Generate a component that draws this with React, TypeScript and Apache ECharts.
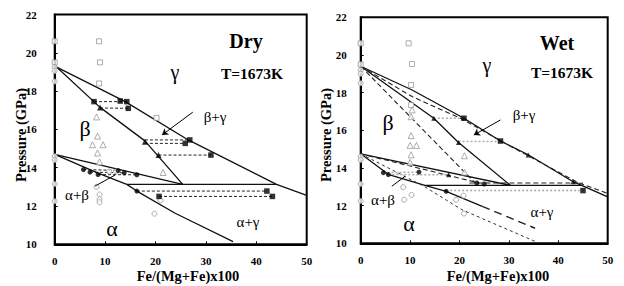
import React, { useEffect, useRef } from "react";
import * as echarts from "echarts";

// ---------- DRY panel data ----------
const dryOpenSquares = [[0, 20.6], [0, 19.5], [8.8, 20.6], [9, 19.5], [8.8, 18.4], [20.2, 16.6]];
const dryOpenTriangles = [[8.3, 16.65], [8.5, 15.65], [7.5, 15.2], [9.6, 15.2], [8.5, 14.77], [8.9, 14.3], [21.5, 13.75]];
const dryOpenCircles = [[0, 19.25], [0, 19.05], [0, 18.5], [0, 14.6], [0, 14.4], [0, 13.15], [0, 12.25], [8.3, 13.0], [8.9, 12.6], [8.9, 12.35], [8.9, 12.2], [10.8, 13.8], [12.2, 13.8], [19.8, 11.6], [21, 12.3]];
const dryFilledSquares = [[7.8, 17.45], [13, 17.48], [14.3, 17.45], [14.6, 17.1], [25.9, 15.27], [26.8, 15.45], [31, 14.66], [42.1, 12.78], [43.2, 12.5], [20.7, 12.5]];
const dryFilledTriangles = [[9, 17.15], [17.9, 15.35], [20.6, 14.66]];
const dryFilledCircles = [[5.7, 13.9], [7, 13.77], [8.6, 13.64], [12.6, 13.85], [13.8, 13.73], [16.3, 13.63], [16.3, 12.78]];
const dryTieLines = [
  [[7.8, 17.45], [14.3, 17.45]],
  [[9, 17.12], [14.6, 17.1]],
  [[17.9, 15.45], [26.8, 15.45]],
  [[17.9, 15.27], [25.9, 15.27]],
  [[20.6, 14.66], [31, 14.66]],
  [[5.7, 13.9], [12.6, 13.86]],
  [[7, 13.77], [13.8, 13.73]],
  [[8.6, 13.64], [16.3, 13.63]],
  [[16.3, 12.78], [42.1, 12.78]],
  [[20.7, 12.5], [43.2, 12.5]],
];
const dryBoundaries = [
  [[0, 19.3], [14, 17.45], [26.5, 15.45], [44, 13.13], [50, 12.55]],
  [[0, 19.35], [9, 17.15], [17.9, 15.4], [25.4, 13.13]],
  [[0, 14.7], [25.4, 13.13]],
  [[0, 14.7], [8.6, 13.72], [14.3, 13.13]],
  [[14.3, 13.13], [44, 13.13]],
  [[14.3, 13.13], [16.3, 12.78], [23.9, 11.62], [35.4, 10.14]],
];

// ---------- WET panel data ----------
const wetOpenSquares = [[0, 20.62], [0, 19.5], [9.7, 20.62], [10.4, 19.52], [10.2, 18.41], [10.2, 17.34]];
const wetOpenTriangles = [[10.4, 17.08], [10.2, 16.72], [10.2, 15.72], [10, 15.2], [11.3, 15.2], [10.2, 14.7], [10, 14.3], [21, 14.65], [21, 13.78]];
const wetOpenCircles = [[0, 19.2], [0, 19.0], [0, 18.5], [0, 14.6], [0, 14.42], [0, 13.15], [0, 12.25], [8.6, 12.98], [10.3, 12.57], [8.8, 12.31], [19.3, 12.31], [20.8, 12.53], [20.9, 11.58]];
const wetFilledSquares = [[20.9, 16.64], [28.3, 15.43], [45, 12.8]];
const wetFilledTriangles = [[14.8, 16.64], [19.8, 15.35], [17.8, 13.64], [33.9, 14.69], [43, 13.27]];
const wetFilledCircles = [[4.6, 13.75], [5.6, 13.65], [11.8, 13.78], [23.5, 13.2], [25, 13.15], [17.3, 12.76]];
const wetTieLines = [
  [[14.8, 16.64], [20.9, 16.64]],
  [[19.8, 15.4], [28.3, 15.4]],
  [[4.6, 13.75], [11.8, 13.78]],
  [[5.6, 13.65], [17.8, 13.64]],
  [[17.3, 12.8], [45, 12.8]],
];
const wetSolidBoundaries = [
  [[0, 19.4], [10.4, 18.14], [20.9, 16.64], [28.3, 15.43], [34, 14.69], [43, 13.27], [50, 12.47]],
  [[0, 19.4], [14.8, 16.64], [19.8, 15.35], [30.3, 13.08]],
  [[0, 14.75], [30.3, 13.08]],
  [[13, 13.08], [44.6, 13.08]],
  [[0, 14.75], [5.7, 13.64], [13, 13.08], [17.3, 12.76], [24.6, 11.96]],
];
// dry boundaries redrawn (dashed) on the wet panel
const wetDashedBoundaries = [
  [[0, 19.4], [10.4, 17.79], [20.5, 16.6], [30, 15.2], [44, 13.22], [50, 12.65]],
  [[0, 19.4], [23.2, 13.2]],
  [[0, 14.75], [24, 13.2]],
  [[22, 13.2], [45, 13.2]],
];
// extrapolated wet alpha boundary (long dash)
const wetLongDashed = [
  [[24.6, 11.96], [35.3, 10.8]],
];
const wetShortDashed = [
  [[0, 14.75], [12.8, 13.03], [20.5, 11.78], [35.3, 10.1]],
];

const xTicks = { min: 0, max: 50, interval: 10 };
const yTicks = { min: 10, max: 22, interval: 2 };

const SERIF = "Liberation Serif";

export default function App() {
  const ref = useRef<HTMLDivElement>(null);
  useEffect(() => {
    if (!ref.current) return;
    const chart = echarts.init(ref.current, null, { renderer: "svg" });
    const series: any[] = [];
    const line = (data: number[][], g: number, color: string, type: any, width: number) =>
      series.push({
        type: "line", xAxisIndex: g, yAxisIndex: g, data, symbol: "none", silent: true,
        lineStyle: { color, type, width }, z: 2,
      });
    const scatter = (data: number[][], g: number, symbol: string, size: number, filled: boolean, color: string) =>
      series.push({
        type: "scatter", xAxisIndex: g, yAxisIndex: g, data, symbol, symbolSize: size, silent: true, z: 4,
        itemStyle: filled ? { color } : { color: "#fff", borderColor: color, borderWidth: 1 },
      });

    // Dry (grid 0)
    dryBoundaries.forEach((d) => line(d, 0, "#111", "solid", 1.3));
    dryTieLines.forEach((d) => line(d, 0, "#222", [3, 2], 1));
    scatter(dryOpenSquares, 0, "rect", 5, false, "#999");
    scatter(dryOpenTriangles, 0, "triangle", 6, false, "#999");
    scatter(dryOpenCircles, 0, "circle", 5, false, "#999");
    scatter(dryFilledSquares, 0, "rect", 5.5, true, "#000");
    scatter(dryFilledTriangles, 0, "triangle", 6, true, "#000");
    scatter(dryFilledCircles, 0, "circle", 5, true, "#000");
    // Wet (grid 1)
    wetSolidBoundaries.forEach((d) => line(d, 1, "#111", "solid", 1.3));
    wetDashedBoundaries.forEach((d) => line(d, 1, "#222", [5, 3], 1.1));
    wetLongDashed.forEach((d) => line(d, 1, "#222", [8, 5], 1.4));
    wetShortDashed.forEach((d) => line(d, 1, "#333", [3, 3], 1));
    wetTieLines.forEach((d) => line(d, 1, "#aaa", [2, 2], 1.5));
    scatter(wetOpenSquares, 1, "rect", 5, false, "#999");
    scatter(wetOpenTriangles, 1, "triangle", 6, false, "#999");
    scatter(wetOpenCircles, 1, "circle", 5, false, "#999");
    scatter(wetFilledSquares, 1, "rect", 5.5, true, "#000");
    scatter(wetFilledTriangles, 1, "triangle", 5, true, "#000");
    scatter(wetFilledCircles, 1, "circle", 5, true, "#000");

    // arrows / leaders
    const arrow = (g: number, a: number[], b: number[], head: boolean) =>
      series.push({
        type: "line", xAxisIndex: g, yAxisIndex: g, data: [], silent: true,
        markLine: {
          silent: true, animation: false, symbol: ["none", head ? "arrow" : "none"], symbolSize: 6,
          label: { show: false }, lineStyle: { color: "#000", type: "solid", width: 1 },
          data: [[{ coord: a }, { coord: b }]],
        },
      });
    arrow(0, [27.4, 16.9], [21.3, 15.71], true);
    arrow(0, [8.0, 13.04], [12.0, 13.62], false);
    arrow(1, [28.3, 16.55], [22.9, 15.75], true);
    arrow(1, [6.3, 13.03], [9.0, 13.56], false);

    const axisLabel = (margin: number) => ({ color: "#000", fontFamily: SERIF, fontWeight: "bold", fontSize: 11, margin });
    const mkX = (g: number) => ({
      type: "value", gridIndex: g, ...xTicks,
      axisLine: { lineStyle: { color: "#000", width: 2 } },
      axisTick: { inside: true, length: 3, lineStyle: { color: "#000" } },
      axisLabel: axisLabel(11), splitLine: { show: false },
    });
    const mkY = (g: number, m: number) => ({
      type: "value", gridIndex: g, ...yTicks,
      axisLine: { lineStyle: { color: "#000", width: 2 } },
      axisTick: { inside: true, length: 3, lineStyle: { color: "#000" } },
      axisLabel: axisLabel(m), splitLine: { show: false },
    });

    const txt = (x: number, y: number, text: string, size: number, bold = false, rotation = 0) => ({
      type: "text", x, y, rotation, silent: true,
      style: {
        text, fill: "#000", fontFamily: SERIF, fontSize: size, fontWeight: bold ? "bold" : "normal",
        align: "center", verticalAlign: "middle",
      },
    });

    chart.setOption({
      animation: false,
      backgroundColor: "#fff",
      grid: [
        { left: 54.7, top: 14.5, width: 252, height: 229.8, show: true, borderColor: "#000", borderWidth: 2, backgroundColor: "transparent" },
        { left: 360.7, top: 17.3, width: 247, height: 226, show: true, borderColor: "#000", borderWidth: 2, backgroundColor: "transparent" },
      ],
      xAxis: [mkX(0), mkX(1)],
      yAxis: [mkY(0, 18), mkY(1, 14)],
      series,
      graphic: [
        txt(21, 135, "Pressure (GPa)", 14.5, true, Math.PI / 2),
        txt(326, 135, "Pressure (GPa)", 14.5, true, Math.PI / 2),
        txt(188, 276, "Fe/(Mg+Fe)x100", 14.5, true),
        txt(498, 276, "Fe/(Mg+Fe)x100", 14.5, true),
        txt(246, 41, "Dry", 20, true),
        txt(252, 73, "T=1673K", 15.5, true),
        txt(557, 43, "Wet", 20, true),
        txt(562, 72, "T=1673K", 15.5, true),
        txt(175, 72, "γ", 20),
        txt(85, 128, "β", 22),
        txt(112, 228, "α", 22),
        txt(215, 117, "β+γ", 15),
        txt(77, 195, "α+β", 15),
        txt(248, 222, "α+γ", 15),
        txt(487, 65, "γ", 20),
        txt(388, 122, "β", 22),
        txt(409, 223, "α", 22),
        txt(524, 115, "β+γ", 15),
        txt(383, 200, "α+β", 15),
        txt(542, 212, "α+γ", 15),
      ],
    });
    return () => chart.dispose();
  }, []);
  return <div ref={ref} style={{ position: "fixed", left: 0, top: 0, width: 624, height: 286 }} />;
}
